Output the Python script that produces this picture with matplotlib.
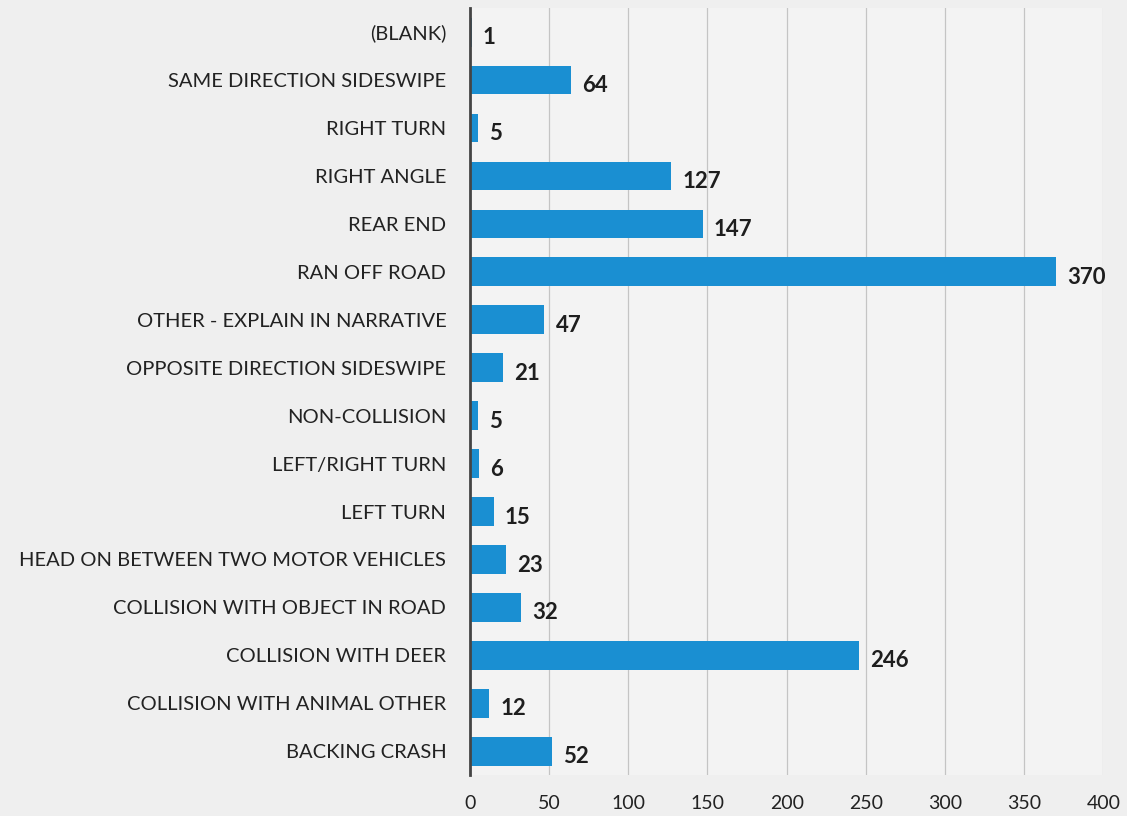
import matplotlib
matplotlib.use("Agg")
import matplotlib.pyplot as plt

categories = ["(BLANK)", "SAME DIRECTION SIDESWIPE", "RIGHT TURN", "RIGHT ANGLE",
              "REAR END", "RAN OFF ROAD", "OTHER - EXPLAIN IN NARRATIVE",
              "OPPOSITE DIRECTION SIDESWIPE", "NON-COLLISION", "LEFT/RIGHT TURN",
              "LEFT TURN", "HEAD ON BETWEEN TWO MOTOR VEHICLES",
              "COLLISION WITH OBJECT IN ROAD", "COLLISION WITH DEER",
              "COLLISION WITH ANIMAL OTHER", "BACKING CRASH"]
values = [1, 64, 5, 127, 147, 370, 47, 21, 5, 6, 15, 23, 32, 246, 12, 52]
xticks = [0, 50, 100, 150, 200, 250, 300, 350, 400]

plt.rcParams['font.family'] = ['Lato', 'DejaVu Sans']

fig = plt.figure(figsize=(11.27, 8.16), dpi=100)
fig.patch.set_facecolor('#efefef')
ax = fig.add_axes([0.417, 0.050, 0.562, 0.940])
ax.set_facecolor('#f3f3f3')

pos = list(range(len(categories)))
ax.barh(pos, values, height=0.6, color='#1a8fd2', zorder=3)
ax.set_ylim(len(categories) - 0.5, -0.5)
ax.set_xlim(0, 400)
ax.set_yticks(pos)
ax.set_yticklabels(categories, fontsize=14.5, color='#222222')
ax.set_xticks(xticks)
ax.set_xticklabels([str(t) for t in xticks], fontsize=14, color='#222222')
ax.tick_params(axis='y', length=0, pad=17)
ax.tick_params(axis='x', length=0, pad=14)
ax.grid(axis='x', color='#c4c4c4', linewidth=0.9, zorder=0)
for s in ['top', 'right', 'bottom']:
    ax.spines[s].set_visible(False)
ax.spines['left'].set_color('#444444')
ax.spines['left'].set_linewidth(2)
ax.spines['left'].set_zorder(4)

for p, v in zip(pos, values):
    ax.annotate(str(v), (v, p), xytext=(8, -4), textcoords='offset points',
                ha='left', va='center', fontsize=16, fontweight='bold', color='#1e1e1e')

fig.savefig('out.png', dpi=100, facecolor=fig.get_facecolor())
